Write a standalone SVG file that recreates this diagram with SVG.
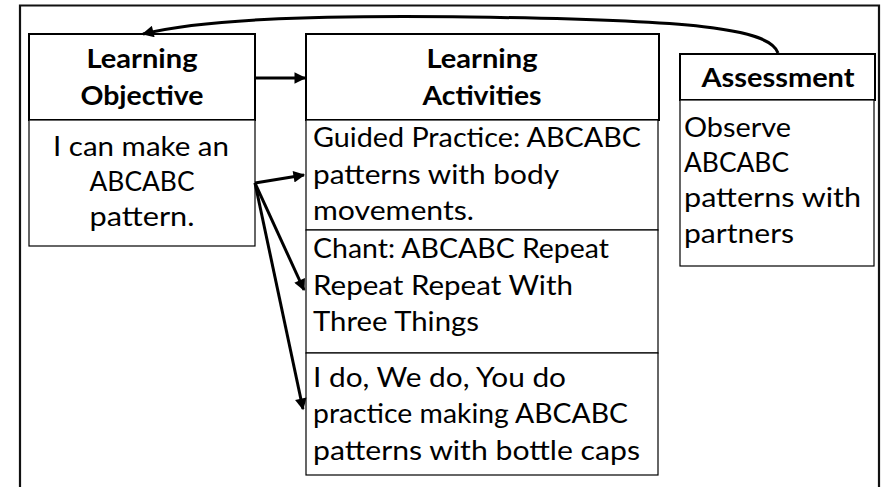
<svg xmlns="http://www.w3.org/2000/svg" width="883" height="487" viewBox="0 0 883 487">
  <style>
    .head { fill: #fff; stroke: #000; stroke-width: 2; }
    .body { fill: #fff; stroke: #000; stroke-width: 1.2; }
    .frame { fill: none; stroke: #111; stroke-width: 2.2; }
    text { font-family: "Lato", "Liberation Sans", sans-serif; font-size: 27px; fill: #000; }
    .b { font-weight: bold; }
    .c { text-anchor: middle; }
    .conn { fill: none; stroke: #000; stroke-width: 3; marker-end: url(#ah); }
  </style>
  <defs>
    <marker id="ah" viewBox="0 0 10 10" refX="9" refY="5" markerWidth="4.4" markerHeight="3.9" orient="auto" markerUnits="strokeWidth">
      <path d="M0,0 L10,5 L0,10 Z" fill="#000"/>
    </marker>
  </defs>

  <rect width="883" height="487" fill="#fff"/>
  <!-- outer frame, open at the bottom -->
  <path class="frame" d="M20,492 V5.5 H879 V492"/>

  <g id="learning-objective">
    <rect class="head" x="29" y="34" width="226" height="86"/>
    <rect class="body" x="29" y="120" width="226" height="126"/>
    <text class="b c" x="142" y="68" textLength="111" lengthAdjust="spacingAndGlyphs">Learning</text>
    <text class="b c" x="142" y="105" textLength="123" lengthAdjust="spacingAndGlyphs">Objective</text>
    <text class="c" x="141" y="156" textLength="176" lengthAdjust="spacingAndGlyphs">I can make an</text>
    <text class="c" x="142" y="191" textLength="105" lengthAdjust="spacingAndGlyphs">ABCABC</text>
    <text class="c" x="142" y="226" textLength="105" lengthAdjust="spacingAndGlyphs">pattern.</text>
  </g>

  <g id="learning-activities">
    <rect class="head" x="306" y="34" width="353" height="86"/>
    <text class="b c" x="482" y="68" textLength="111" lengthAdjust="spacingAndGlyphs">Learning</text>
    <text class="b c" x="482" y="105" textLength="119" lengthAdjust="spacingAndGlyphs">Activities</text>
  </g>

  <g id="activity-guided-practice">
    <rect class="body" x="306" y="120" width="352" height="110"/>
    <text x="313" y="147" textLength="328" lengthAdjust="spacingAndGlyphs">Guided Practice: ABCABC</text>
    <text x="313" y="183.5" textLength="246" lengthAdjust="spacingAndGlyphs">patterns with body</text>
    <text x="313" y="220" textLength="161" lengthAdjust="spacingAndGlyphs">movements.</text>
  </g>

  <g id="activity-chant">
    <rect class="body" x="306" y="230" width="352" height="123"/>
    <text x="313" y="258" textLength="296" lengthAdjust="spacingAndGlyphs">Chant: ABCABC Repeat</text>
    <text x="313" y="295" textLength="260" lengthAdjust="spacingAndGlyphs">Repeat Repeat With</text>
    <text x="313" y="331" textLength="166" lengthAdjust="spacingAndGlyphs">Three Things</text>
  </g>

  <g id="activity-bottle-caps">
    <rect class="body" x="306" y="353" width="352" height="122"/>
    <text x="313" y="387" textLength="253" lengthAdjust="spacingAndGlyphs">I do, We do, You do</text>
    <text x="313" y="423" textLength="315" lengthAdjust="spacingAndGlyphs">practice making ABCABC</text>
    <text x="313" y="460" textLength="327" lengthAdjust="spacingAndGlyphs">patterns with bottle caps</text>
  </g>

  <g id="assessment">
    <rect class="head" x="680" y="54" width="195" height="46"/>
    <rect class="body" x="680" y="100" width="194" height="166"/>
    <text class="b c" x="778" y="87" textLength="153" lengthAdjust="spacingAndGlyphs">Assessment</text>
    <text x="684" y="137" textLength="107" lengthAdjust="spacingAndGlyphs">Observe</text>
    <text x="684" y="172" textLength="105" lengthAdjust="spacingAndGlyphs">ABCABC</text>
    <text x="684" y="207" textLength="177" lengthAdjust="spacingAndGlyphs">patterns with</text>
    <text x="684" y="243" textLength="110" lengthAdjust="spacingAndGlyphs">partners</text>
  </g>

  <g id="connectors">
    <path class="conn" d="M255,78 L305,78"/>
    <path class="conn" d="M778,53 C770,28 690,20 470,17 C300,15 200,20 143,34"/>
    <path class="conn" d="M255,183 L304,175"/>
    <path class="conn" d="M255,183 L304,290"/>
    <path class="conn" d="M255,183 L303,409"/>
  </g>
</svg>
